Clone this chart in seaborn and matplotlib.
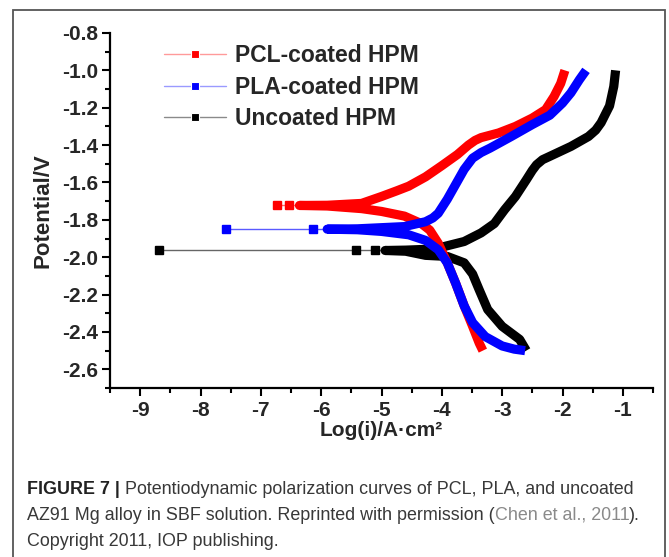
import numpy as np
import pandas as pd
import seaborn as sns
import matplotlib.pyplot as plt
from matplotlib.lines import Line2D
from matplotlib.patches import Rectangle

sns.set_style('white')
plt.rcParams['font.family'] = ['Liberation Sans', 'DejaVu Sans']
plt.rcParams['axes.unicode_minus'] = False

# values: log(i) vs potential (V)
labels = ['PCL-coated HPM', 'PLA-coated HPM', 'Uncoated HPM']

pcl_ecorr = -1.723
pcl_tail_x = [-6.36, -6.54, -6.74]
pcl_anod_x = [-5.9, -5.33, -5.0, -4.75, -4.55, -4.27, -4.0, -3.74, -3.56, -3.45, -3.35, -3.06, -2.78, -2.5, -2.28, -2.14, -2.03, -1.96]
pcl_anod_y = [-1.722, -1.712, -1.675, -1.645, -1.62, -1.57, -1.51, -1.45, -1.40, -1.375, -1.36, -1.335, -1.30, -1.255, -1.21, -1.14, -1.07, -1.0]
pcl_cath_x = [-5.9, -5.33, -5.0, -4.62, -4.34, -4.2, -4.06, -3.91, -3.77, -3.63, -3.49, -3.38, -3.32]
pcl_cath_y = [-1.726, -1.74, -1.755, -1.78, -1.82, -1.855, -1.925, -2.03, -2.14, -2.26, -2.37, -2.46, -2.50]

pla_ecorr = -1.85
pla_tail_x = [-5.9, -6.13, -7.58]
pla_anod_x = [-5.4, -4.62, -4.27, -4.15, -4.06, -3.91, -3.77, -3.63, -3.49, -3.35, -3.2, -2.85, -2.5, -2.21, -2.0, -1.86, -1.72, -1.61]
pla_anod_y = [-1.848, -1.836, -1.81, -1.79, -1.765, -1.69, -1.61, -1.53, -1.47, -1.44, -1.416, -1.354, -1.29, -1.24, -1.175, -1.12, -1.05, -1.0]
pla_cath_x = [-5.4, -5.0, -4.55, -4.27, -4.06, -3.91, -3.77, -3.63, -3.49, -3.28, -3.0, -2.8, -2.62]
pla_cath_y = [-1.853, -1.862, -1.88, -1.91, -1.96, -2.03, -2.14, -2.26, -2.35, -2.425, -2.475, -2.492, -2.50]

unc_ecorr = -1.964
unc_tail_x = [-4.94, -5.1, -5.42, -8.68]
unc_anod_x = [-4.6, -4.27, -4.0, -3.63, -3.35, -3.13, -2.96, -2.78, -2.6, -2.5, -2.43, -2.33, -2.21, -1.86, -1.57, -1.45, -1.36, -1.22, -1.15, -1.12]
unc_anod_y = [-1.962, -1.958, -1.946, -1.916, -1.87, -1.82, -1.746, -1.675, -1.586, -1.535, -1.505, -1.478, -1.46, -1.407, -1.354, -1.32, -1.28, -1.19, -1.086, -1.0]
unc_cath_x = [-4.6, -4.27, -3.91, -3.63, -3.49, -3.38, -3.24, -3.0, -2.71, -2.6]
unc_cath_y = [-1.968, -1.99, -1.996, -2.03, -2.09, -2.175, -2.28, -2.37, -2.44, -2.50]

x_ticks = [-9, -8, -7, -6, -5, -4, -3, -2, -1]
y_ticks = [-0.8, -1.0, -1.2, -1.4, -1.6, -1.8, -2.0, -2.2, -2.4, -2.6]

colors = ['#ff0000', '#0000ff', '#000000']
thin_colors = ['#ff6e6e', '#5a5aff', '#666666']
legend_line = ['#ff9a9a', '#9a9aff', '#8a8a8a']

samples = [
    (pcl_ecorr, pcl_tail_x, pcl_anod_x, pcl_anod_y, pcl_cath_x, pcl_cath_y),
    (pla_ecorr, pla_tail_x, pla_anod_x, pla_anod_y, pla_cath_x, pla_cath_y),
    (unc_ecorr, unc_tail_x, unc_anod_x, unc_anod_y, unc_cath_x, unc_cath_y),
]

W, H = 669, 557
fig = plt.figure(figsize=(W / 100, H / 100), dpi=100)
ax = fig.add_axes([110 / W, 1 - 388 / H, 543 / W, 355 / H])

# draw order: uncoated, PCL, PLA (blue sits on top)
for k in [2, 0, 1]:
    ecorr, tail_x, anod_x, anod_y, cath_x, cath_y = samples[k]
    path_x = cath_x[::-1] + [tail_x[0]] + anod_x
    path_y = cath_y[::-1] + [ecorr] + anod_y
    dense = pd.DataFrame({'log_i': path_x, 'E': path_y})
    tail = pd.DataFrame({'log_i': tail_x, 'E': [ecorr] * len(tail_x)})
    sns.lineplot(data=tail, x='log_i', y='E', sort=False, estimator=None, ax=ax,
                 color=thin_colors[k], lw=1.0, zorder=2)
    ax.plot(tail['log_i'][1:], tail['E'][1:], ls='none', marker='s', ms=5.4,
            color=colors[k], mec=colors[k], zorder=3)
    sns.lineplot(data=dense, x='log_i', y='E', sort=False, estimator=None, ax=ax,
                 color=colors[k], lw=6.6, zorder=3, solid_joinstyle='round',
                 solid_capstyle='butt')

ax.set_xlim(-9.5, -0.5)
ax.set_ylim(-2.7, -0.8)
ax.set_xticks(x_ticks)
ax.set_xticks(np.arange(-9.5, -0.4, 1.0), minor=True)
ax.set_yticks(y_ticks)
ax.set_yticks(np.arange(-0.9, -2.75, -0.2), minor=True)
ax.set_xticklabels([f'{v:d}' for v in x_ticks])
ax.set_yticklabels([f'{v:.1f}' for v in y_ticks])
for s in ['top', 'right']:
    ax.spines[s].set_visible(False)
for s in ['left', 'bottom']:
    ax.spines[s].set_linewidth(1.6)
    ax.spines[s].set_color('black')
ax.tick_params(which='major', direction='out', length=5.8, width=1.5, color='black',
               labelsize=15, pad=3)
ax.tick_params(axis='x', which='major', pad=3.5)
ax.tick_params(which='minor', direction='out', length=3.6, width=1.5, color='black')
ax.tick_params(axis='both', which='both', bottom=True, left=True)
for lab in ax.get_xticklabels() + ax.get_yticklabels():
    lab.set_fontweight('bold')

ax.set_xlabel('Log(i)/A·cm²', fontsize=15, fontweight='bold', labelpad=1)
ax.set_ylabel('Potential/V', fontsize=16, fontweight='bold', labelpad=6)

handles = [Line2D([], [], color=legend_line[k], lw=1.0, marker='s', ms=5.4,
                  mfc=colors[k], mec='white', mew=0.8) for k in range(3)]
ax.legend(handles, labels, loc='upper left', bbox_to_anchor=(0.1, 0.968), frameon=False,
          prop={'weight': 'bold', 'size': 16.5}, handlelength=2.7, handletextpad=0.4,
          labelspacing=0.36, borderpad=0, borderaxespad=0, numpoints=1)

# outer frame of the figure panel
fig.patches.append(Rectangle((13 / W, -0.05), 652 / W, 1.05 - 10 / H, transform=fig.transFigure,
                             fill=False, ec='#555555', lw=1.3))

# caption
renderer = fig.canvas.get_renderer()
cap_size = 12.9
cap_color = '#383838'
link_color = '#8a8a8a'
cap_lines = [
    (489, [('FIGURE 7 |', 'bold', '#222222'),
           (' Potentiodynamic polarization curves of PCL, PLA, and uncoated', 'normal', cap_color)]),
    (515, [('AZ91 Mg alloy in SBF solution. Reprinted with permission (', 'normal', cap_color),
           ('Chen et al., 2011', 'normal', link_color),
           (').', 'normal', cap_color)]),
    (541, [('Copyright 2011, IOP publishing.', 'normal', cap_color)]),
]
for y_px, segs in cap_lines:
    x_px = 27
    for txt, wt, col in segs:
        t = fig.text(x_px / W, 1 - y_px / H, txt, fontsize=cap_size, fontweight=wt,
                     color=col, ha='left', va='center')
        x_px += t.get_window_extent(renderer).width

fig.savefig('out.png', dpi=100)
